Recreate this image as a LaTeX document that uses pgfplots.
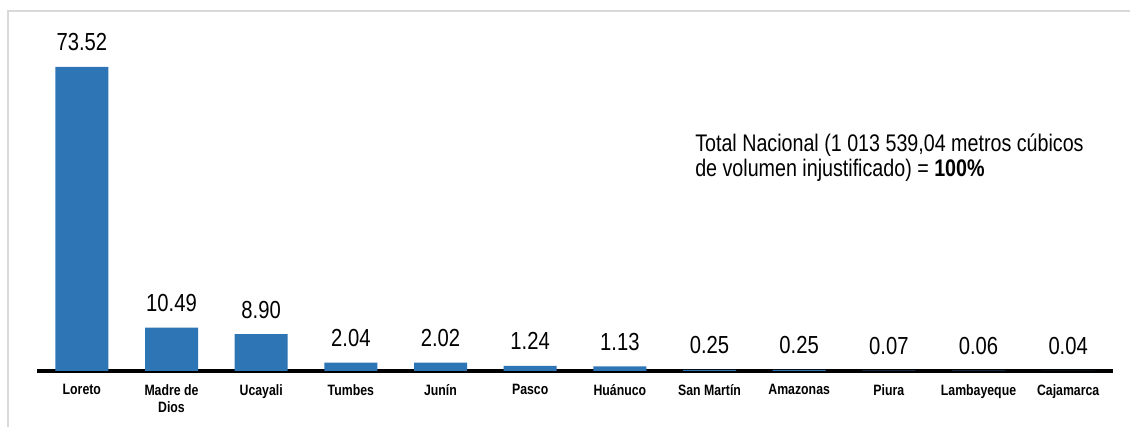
\documentclass[border=0pt]{standalone}
\usepackage{pgfplots}
\pgfplotsset{compat=1.18}
\usepackage{fontspec}
\setmainfont{Liberation Sans}[FakeStretch=0.82]
\definecolor{barblue}{HTML}{2E75B6}
\definecolor{framegray}{HTML}{D9D9D9}
\begin{document}
\begin{tikzpicture}
\useasboundingbox (0,0) rectangle (847.5pt,320.25pt);
\draw[framegray, line width=0.9pt] (6pt,0) -- (6pt,312pt) -- (847.5pt,312pt);
\begin{axis}[
  at={(27.75pt,42pt)}, anchor=south west,
  scale only axis, width=807pt, height=248.1pt,
  xmin=-0.5, xmax=11.5, ymin=0, ymax=80,
  axis x line*=bottom, axis y line=none,
  x axis line style={-, line width=2.6pt, black},
  ytick=\empty, xtick={0,...,11},
  xticklabels={Loreto,{Madre de\\Dios},Ucayali,Tumbes,Junín,Pasco,Huánuco,San Martín,Amazonas,Piura,Lambayeque,Cajamarca},
  major tick length=0pt,
  xticklabel style={font=\bfseries\fontsize{11.25}{12.5}\selectfont, align=center, anchor=north, inner sep=0pt, yshift=-10pt},
  ybar, bar width=39.75pt, clip=false,
  nodes near coords={\pgfmathprintnumber[fixed,fixed zerofill,precision=2]{\pgfplotspointmeta}},
  /pgf/number format/assume math mode=true,
  every node near coord/.append style={font=\fontsize{18.5}{20}\selectfont, anchor=base, inner sep=0pt, yshift=12pt, text=black},
]
\addplot[fill=barblue, draw=none] coordinates {
(0,73.52) (1,10.49) (2,8.90) (3,2.04) (4,2.02) (5,1.24) (6,1.13) (7,0.25) (8,0.25) (9,0.07) (10,0.06) (11,0.04)};
\end{axis}
\node[anchor=base west, align=left, inner sep=0pt, font=\fontsize{18}{18.75}\selectfont] at (521.25pt,187.5pt) {Total Nacional (1 013 539,04 metros cúbicos\\de volumen injustificado) = \textbf{100\%}};
\end{tikzpicture}
\end{document}
